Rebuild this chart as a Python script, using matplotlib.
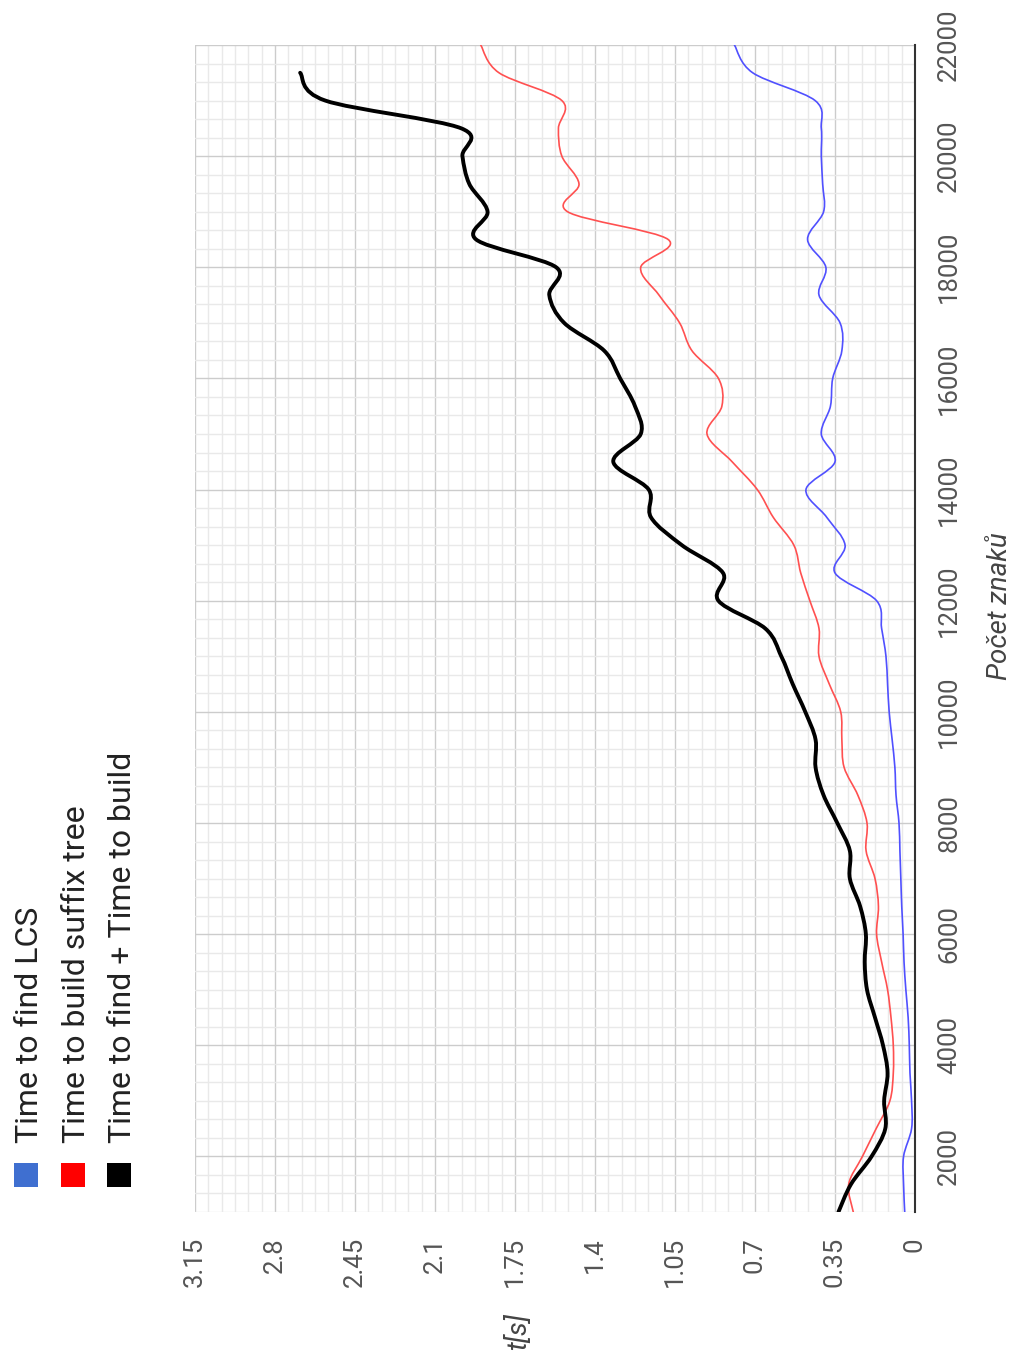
import numpy as np
import matplotlib
matplotlib.use("Agg")
import matplotlib.pyplot as plt
from matplotlib.path import Path
from matplotlib.patches import PathPatch, Rectangle
from matplotlib.ticker import AutoMinorLocator

plt.rcParams['font.family'] = ['Roboto', 'DejaVu Sans']

# ---------------- data ----------------
chars = [1000, 1500, 2000, 2500, 3000, 3500, 4000, 4500, 5000, 5500,
         6000, 6500, 7000, 7500, 8000, 8500, 9000, 9500, 10000, 10500,
         11000, 11500, 12000, 12500, 13000, 13500, 14000, 14500, 15000, 15500,
         16000, 16500, 17000, 17500, 18000, 18500, 19000, 19500, 20000, 20500,
         21000, 21500, 22000]

time_lcs = [0.045, 0.05, 0.05, 0.015, 0.015, 0.022, 0.025, 0.03, 0.04, 0.048,
            0.052, 0.058, 0.062, 0.066, 0.07, 0.083, 0.088, 0.10, 0.113, 0.12,
            0.127, 0.146, 0.168, 0.35, 0.306, 0.386, 0.477, 0.35, 0.41, 0.37,
            0.36, 0.32, 0.328, 0.42, 0.39, 0.47, 0.40, 0.404, 0.41, 0.41,
            0.437, 0.71, 0.79]

time_build = [0.27, 0.29, 0.23, 0.17, 0.11, 0.095, 0.095, 0.105, 0.12, 0.146,
              0.168, 0.16, 0.175, 0.214, 0.21, 0.25, 0.31, 0.32, 0.325, 0.375,
              0.42, 0.42, 0.46, 0.50, 0.53, 0.62, 0.69, 0.80, 0.91, 0.845,
              0.86, 0.976, 1.03, 1.12, 1.20, 1.08, 1.52, 1.47, 1.545, 1.56,
              1.545, 1.82, 1.90]

chars_total = chars[:-1]
time_total = [0.335, 0.28, 0.19, 0.13, 0.135, 0.12, 0.14, 0.175, 0.21, 0.22,
              0.215, 0.24, 0.285, 0.285, 0.34, 0.40, 0.435, 0.435, 0.48, 0.535,
              0.585, 0.655, 0.86, 0.84, 1.02, 1.155, 1.165, 1.32, 1.20, 1.225,
              1.29, 1.36, 1.535, 1.60, 1.57, 1.92, 1.87, 1.95, 1.98, 1.985,
              2.58, 2.69]

series_names = ["Time to find LCS", "Time to build suffix tree",
                "Time to find + Time to build"]
series_colors = ["#5050ff", "#ff5050", "#000000"]
legend_colors = ["#3f6fd0", "#ff0000", "#000000"]

time_ticks = [0, 0.35, 0.7, 1.05, 1.4, 1.75, 2.1, 2.45, 2.8, 3.15]
time_tick_labels = ["0", "0.35", "0.7", "1.05", "1.4", "1.75", "2.1",
                    "2.45", "2.8", "3.15"]
char_ticks = [2000, 4000, 6000, 8000, 10000, 12000, 14000, 16000, 18000,
              20000, 22000]

x_title = "Počet znaků"
y_title = "t[s]"


def smooth_path(n, t):
    """Catmull-Rom style cubic Bezier path through data points (x=time, y=chars)."""
    P = np.column_stack([np.asarray(t, float), np.asarray(n, float)])
    verts = [P[0]]
    codes = [Path.MOVETO]
    m = len(P)
    for i in range(m - 1):
        prev = P[i - 1] if i > 0 else P[i]
        nxt = P[i + 2] if i + 2 < m else P[i + 1]
        b1 = P[i] + (P[i + 1] - prev) / 6.0
        b2 = P[i + 1] - (nxt - P[i]) / 6.0
        verts += [b1, b2, P[i + 1]]
        codes += [Path.CURVE4] * 3
    return Path(np.array(verts), codes)


W, H = 1016, 1360
fig = plt.figure(figsize=(W / 100, H / 100), dpi=100)
L, R, T, B = 195, 915, 45, 1212
ax = fig.add_axes([L / W, 1 - B / H, (R - L) / W, (B - T) / H])

ax.set_xlim(3.15, 0)
ax.set_ylim(1000, 22000)

ax.set_xticks(time_ticks)
ax.set_xticklabels(time_tick_labels)
ax.set_yticks(char_ticks)
ax.set_yticklabels([str(v) for v in char_ticks])
ax.xaxis.set_minor_locator(AutoMinorLocator(6))
ax.yaxis.set_minor_locator(AutoMinorLocator(6))
ax.yaxis.tick_right()

ax.set_axisbelow(True)
ax.grid(which='minor', color='#e9e9e9', lw=1.0)
ax.grid(which='major', color='#cccccc', lw=1.0)

for s in ['top', 'left', 'bottom']:
    ax.spines[s].set_visible(False)
ax.spines['right'].set_color('#333333')
ax.spines['right'].set_linewidth(1.5)

ax.tick_params(which='both', length=0)
ax.tick_params(axis='x', labelrotation=90, pad=18, labelsize=18.5, labelcolor='#555555')
ax.tick_params(axis='y', labelrotation=90, pad=16, labelsize=18.5, labelcolor='#555555')
for lbl in ax.get_yticklabels():
    lbl.set_va('center')

widths = [1.2, 1.2, 2.8]
datasets = [(chars, time_lcs), (chars, time_build), (chars_total, time_total)]
for (n, t), c, w in zip(datasets, series_colors, widths):
    ax.add_patch(PathPatch(smooth_path(n, t), fill=False, edgecolor=c, lw=w,
                           capstyle='round', joinstyle='round', zorder=3))

# axis titles
ax.set_ylabel(x_title, rotation=90, fontsize=20, style='italic', color='#444444')
ax.yaxis.set_label_position('right')
ax.yaxis.set_label_coords((1000 - L) / (R - L), (B - 606) / (B - T))
ax.yaxis.label.set_va('center')
ax.yaxis.label.set_ha('center')
ax.set_xlabel(y_title, rotation=90, fontsize=20, style='italic', color='#444444')
ax.xaxis.set_label_coords((519 - L) / (R - L), (B - 1332) / (B - T))
ax.xaxis.label.set_va('center')
ax.xaxis.label.set_ha('center')

# legend (rotated, drawn manually)
sq_left = [14, 61, 107]
baselines = [38, 85, 131]
for name, col, sx, bx in zip(series_names, legend_colors, sq_left, baselines):
    fig.add_artist(Rectangle((sx / W, 1 - 1187 / H), 24 / W, 24 / H,
                             transform=fig.transFigure, facecolor=col,
                             edgecolor='none'))
    fig.text(bx / W, 1 - 1143 / H, name, rotation=90, rotation_mode='anchor',
             ha='left', va='baseline', fontsize=23, color='#222222')

fig.savefig("out.png", dpi=100, facecolor='white')
